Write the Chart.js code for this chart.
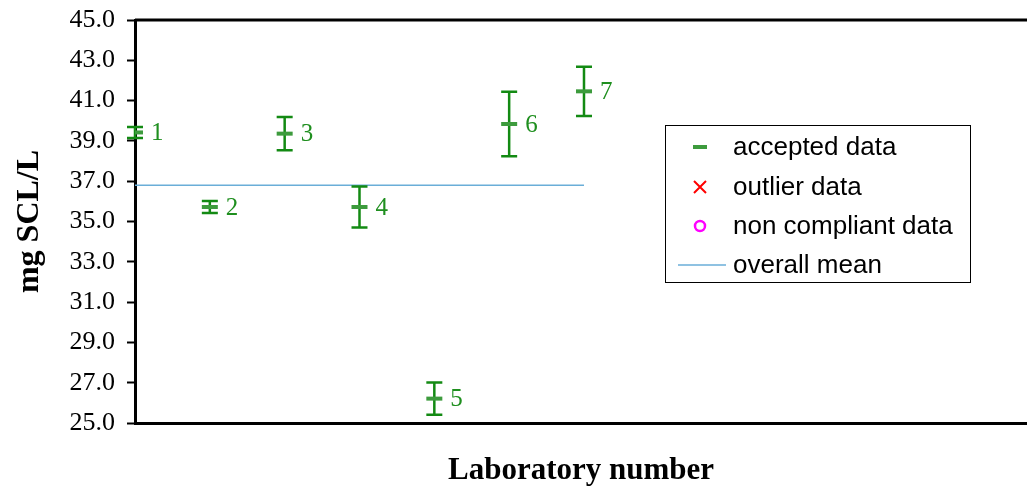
<!DOCTYPE html>
<html>
<head>
<meta charset="utf-8">
<script src="https://cdn.jsdelivr.net/npm/chart.js@4/dist/chart.umd.min.js"></script>
<style>
  html, body { margin: 0; padding: 0; background: #fff; overflow: hidden; }
  #wrap { width: 1027px; height: 493px; position: relative; }
</style>
</head>
<body>
<div id="wrap"><canvas id="c"></canvas></div>
<script>
// données
const labs = [1, 2, 3, 4, 5, 6, 7];
const labMeans = [39.42, 35.72, 39.36, 35.72, 26.21, 39.84, 41.46];
const labErrors = [0.27, 0.3, 0.83, 1.02, 0.8, 1.6, 1.22];
const overallMean = 36.8;
const yMin = 25, yMax = 45, yStep = 2;
const legendItems = ['accepted data', 'outlier data', 'non compliant data', 'overall mean'];

const serif = '"Liberation Serif", "Times New Roman", serif';
const sans = '"Liberation Sans", Arial, sans-serif';
const cor = {
  barra: '#138a13',
  ponto: '#3d9b3d',
  rotulo: '#1f8f1f',
  media: '#6aaed8',
  outlier: '#ff0000',
  naoConforme: '#ff00ff',
};

// barras de erro, desenhadas antes dos pontos
const errorBars = {
  id: 'errorBars',
  beforeDatasetDraw(chart, args) {
    if (args.index !== 1) return;
    const { ctx, scales: { x, y } } = chart;
    ctx.save();
    ctx.strokeStyle = cor.barra;
    ctx.lineWidth = 2.5;
    labs.forEach((lab, i) => {
      const px = x.getPixelForValue(lab);
      const top = y.getPixelForValue(labMeans[i] + labErrors[i]);
      const bot = y.getPixelForValue(labMeans[i] - labErrors[i]);
      ctx.beginPath();
      ctx.moveTo(px, top); ctx.lineTo(px, bot);
      ctx.moveTo(px - 8, top); ctx.lineTo(px + 8, top);
      ctx.moveTo(px - 8, bot); ctx.lineTo(px + 8, bot);
      ctx.stroke();
    });
    ctx.restore();
  },
  afterDatasetsDraw(chart) {
    const { ctx, scales: { x, y }, chartArea } = chart;
    ctx.save();
    // borda superior
    ctx.strokeStyle = '#000';
    ctx.lineWidth = 3;
    ctx.beginPath();
    ctx.moveTo(chartArea.left, chartArea.top);
    ctx.lineTo(chartArea.right, chartArea.top);
    ctx.stroke();
    // números dos laboratórios
    ctx.fillStyle = cor.rotulo;
    ctx.font = '25px ' + serif;
    ctx.textAlign = 'left';
    ctx.textBaseline = 'middle';
    labs.forEach((lab, i) => {
      ctx.fillText(String(lab), x.getPixelForValue(lab) + 16, y.getPixelForValue(labMeans[i]) + 1);
    });
    ctx.restore();
  },
  afterDraw(chart) {
    const { ctx } = chart;
    const bx = 665, by = 125, bw = 305, bh = 157;
    ctx.save();
    ctx.fillStyle = '#fff';
    ctx.fillRect(bx, by, bw, bh);
    ctx.strokeStyle = '#000';
    ctx.lineWidth = 1;
    ctx.strokeRect(bx + 0.5, by + 0.5, bw, bh);
    const rows = [147, 187, 226, 265];
    const mx = 700;
    // accepted
    ctx.strokeStyle = cor.ponto;
    ctx.lineWidth = 4;
    ctx.beginPath(); ctx.moveTo(mx - 7, rows[0]); ctx.lineTo(mx + 7, rows[0]); ctx.stroke();
    // outlier
    ctx.strokeStyle = cor.outlier;
    ctx.lineWidth = 2;
    ctx.beginPath();
    ctx.moveTo(mx - 6, rows[1] - 6); ctx.lineTo(mx + 6, rows[1] + 6);
    ctx.moveTo(mx + 6, rows[1] - 6); ctx.lineTo(mx - 6, rows[1] + 6);
    ctx.stroke();
    // non compliant
    ctx.strokeStyle = cor.naoConforme;
    ctx.lineWidth = 2.5;
    ctx.beginPath(); ctx.arc(mx, rows[2], 5, 0, Math.PI * 2); ctx.stroke();
    // mean
    ctx.strokeStyle = cor.media;
    ctx.lineWidth = 1.5;
    ctx.beginPath(); ctx.moveTo(678, rows[3]); ctx.lineTo(726, rows[3]); ctx.stroke();
    ctx.fillStyle = '#000';
    ctx.font = '26px ' + sans;
    ctx.textAlign = 'left';
    ctx.textBaseline = 'middle';
    legendItems.forEach((t, i) => ctx.fillText(t, 733, rows[i] + 1));
    ctx.restore();
  },
};

new Chart(document.getElementById('c'), {
  type: 'scatter',
  data: {
    datasets: [
      {
        label: 'overall mean',
        type: 'line',
        data: [{ x: labs[0], y: overallMean }, { x: labs[labs.length - 1], y: overallMean }],
        borderColor: cor.media,
        borderWidth: 1.5,
        pointRadius: 0,
        order: 2,
      },
      {
        label: 'accepted data',
        data: labs.map((l, i) => ({ x: l, y: labMeans[i] })),
        pointStyle: 'line',
        radius: 8,
        borderWidth: 4,
        borderColor: cor.ponto,
        backgroundColor: cor.ponto,
        order: 1,
      },
      { label: 'outlier data', data: [], pointStyle: 'crossRot', borderColor: cor.outlier },
      { label: 'non compliant data', data: [], pointStyle: 'circle', borderColor: cor.naoConforme },
    ],
  },
  options: {
    responsive: true,
    maintainAspectRatio: false,
    animation: false,
    layout: { autoPadding: false, padding: { top: 20, left: 0, right: 0, bottom: 0 } },
    plugins: { legend: { display: false }, tooltip: { enabled: false } },
    scales: {
      x: {
        type: 'linear',
        min: 1,
        max: 12.92,
        afterFit: (s) => { s.height = 70; s.paddingLeft = 0; s.paddingRight = 0; },
        ticks: { display: false },
        grid: { display: false, drawTicks: false },
        border: { display: true, color: '#000', width: 3 },
        title: {
          display: true,
          text: 'Laboratory number',
          color: '#000',
          font: { family: serif, size: 31, weight: 'bold' },
          padding: { top: 0, bottom: 3 },
        },
      },
      y: {
        min: yMin,
        max: yMax,
        afterFit: (s) => { s.width = 135; s.paddingTop = 0; s.paddingBottom = 0; },
        ticks: {
          stepSize: yStep,
          color: '#000',
          padding: 12,
          font: { family: serif, size: 26 },
          callback: (v) => Number(v).toFixed(1),
        },
        grid: { drawOnChartArea: false, drawTicks: true, tickLength: 8, tickWidth: 2, tickColor: '#000' },
        border: { color: '#000', width: 3 },
        title: {
          display: true,
          text: 'mg SCL/L',
          color: '#000',
          font: { family: serif, size: 32, weight: 'bold' },
          padding: { top: 11, bottom: 0 },
        },
      },
    },
  },
  plugins: [errorBars],
});
</script>
</body>
</html>
